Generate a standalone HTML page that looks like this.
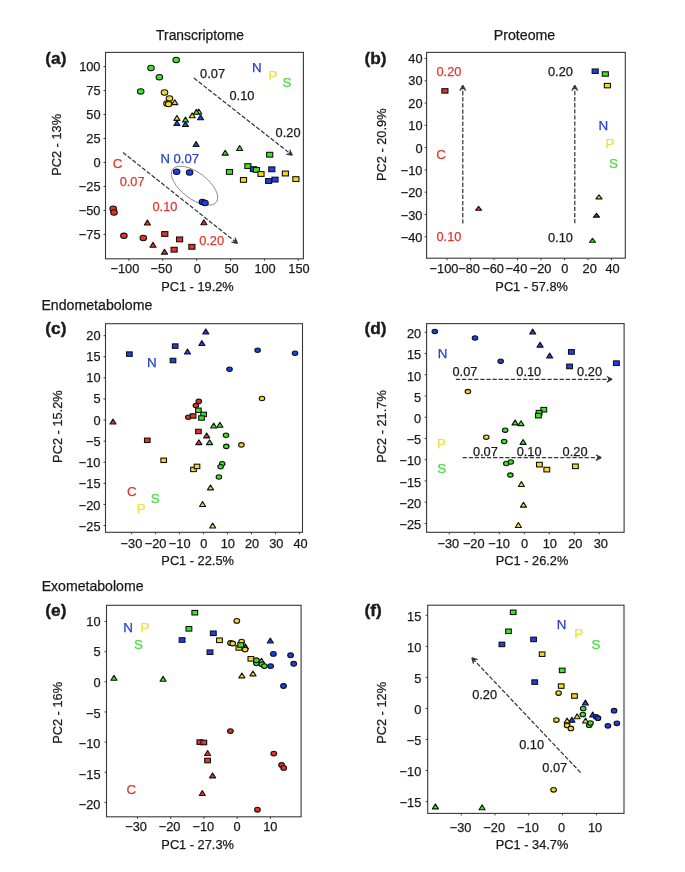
<!DOCTYPE html>
<html><head><meta charset="utf-8"><style>
html,body{margin:0;padding:0;background:#fff;}
svg{display:block;will-change:transform;}
text{font-family:"Liberation Sans",sans-serif;}
</style></head><body>
<svg width="685" height="872" viewBox="0 0 685 872">
<rect width="685" height="872" fill="#fff"/>
<text x="156.10" y="39.60" style="font-size:13.85px;fill:#1a1a1a;stroke:#1a1a1a;stroke-width:0.25px;" >Transcriptome</text>
<text x="493.74" y="39.70" style="font-size:14.2px;fill:#1a1a1a;stroke:#1a1a1a;stroke-width:0.25px;" >Proteome</text>
<text x="41.44" y="310.20" style="font-size:14.15px;fill:#1a1a1a;stroke:#1a1a1a;stroke-width:0.25px;" >Endometabolome</text>
<text x="41.64" y="591.00" style="font-size:14.1px;fill:#1a1a1a;stroke:#1a1a1a;stroke-width:0.25px;" >Exometabolome</text>
<text x="45.34" y="63.70" style="font-size:17.3px;font-weight:bold;fill:#1a1a1a;stroke:#1a1a1a;stroke-width:0.4px;" >(a)</text>
<text x="364.44" y="63.70" style="font-size:17.3px;font-weight:bold;fill:#1a1a1a;stroke:#1a1a1a;stroke-width:0.4px;" >(b)</text>
<text x="45.34" y="334.30" style="font-size:17.3px;font-weight:bold;fill:#1a1a1a;stroke:#1a1a1a;stroke-width:0.4px;" >(c)</text>
<text x="364.44" y="334.30" style="font-size:17.3px;font-weight:bold;fill:#1a1a1a;stroke:#1a1a1a;stroke-width:0.4px;" >(d)</text>
<text x="45.34" y="615.90" style="font-size:17.3px;font-weight:bold;fill:#1a1a1a;stroke:#1a1a1a;stroke-width:0.4px;" >(e)</text>
<text x="364.44" y="615.90" style="font-size:17.3px;font-weight:bold;fill:#1a1a1a;stroke:#1a1a1a;stroke-width:0.4px;" >(f)</text>
<rect x="105.5" y="52.4" width="197.90" height="206.40" fill="none" stroke="#383838" stroke-width="1.1"/>
<line x1="128.90" y1="258.80" x2="128.90" y2="260.80" stroke="#383838" stroke-width="1"/>
<text x="110.52" y="273.00" style="font-size:12.8px;fill:#1a1a1a;stroke:#1a1a1a;stroke-width:0.25px;" >−100</text>
<line x1="162.78" y1="258.80" x2="162.78" y2="260.80" stroke="#383838" stroke-width="1"/>
<text x="150.58" y="273.00" style="font-size:12.8px;fill:#1a1a1a;stroke:#1a1a1a;stroke-width:0.25px;" >−50</text>
<line x1="196.66" y1="258.80" x2="196.66" y2="260.80" stroke="#383838" stroke-width="1"/>
<text x="193.74" y="273.00" style="font-size:12.8px;fill:#1a1a1a;stroke:#1a1a1a;stroke-width:0.25px;" >0</text>
<line x1="230.54" y1="258.80" x2="230.54" y2="260.80" stroke="#383838" stroke-width="1"/>
<text x="224.38" y="273.00" style="font-size:12.8px;fill:#1a1a1a;stroke:#1a1a1a;stroke-width:0.25px;" >50</text>
<line x1="264.42" y1="258.80" x2="264.42" y2="260.80" stroke="#383838" stroke-width="1"/>
<text x="254.39" y="273.00" style="font-size:12.8px;fill:#1a1a1a;stroke:#1a1a1a;stroke-width:0.25px;" >100</text>
<line x1="298.30" y1="258.80" x2="298.30" y2="260.80" stroke="#383838" stroke-width="1"/>
<text x="288.29" y="273.00" style="font-size:12.8px;fill:#1a1a1a;stroke:#1a1a1a;stroke-width:0.25px;" >150</text>
<line x1="103.50" y1="66.60" x2="105.50" y2="66.60" stroke="#383838" stroke-width="1"/>
<text x="79.15" y="70.95" style="font-size:12.8px;fill:#1a1a1a;stroke:#1a1a1a;stroke-width:0.25px;" >100</text>
<line x1="103.50" y1="90.57" x2="105.50" y2="90.57" stroke="#383838" stroke-width="1"/>
<text x="86.30" y="94.87" style="font-size:12.8px;fill:#1a1a1a;stroke:#1a1a1a;stroke-width:0.25px;" >75</text>
<line x1="103.50" y1="114.54" x2="105.50" y2="114.54" stroke="#383838" stroke-width="1"/>
<text x="86.27" y="118.92" style="font-size:12.8px;fill:#1a1a1a;stroke:#1a1a1a;stroke-width:0.25px;" >50</text>
<line x1="103.50" y1="138.51" x2="105.50" y2="138.51" stroke="#383838" stroke-width="1"/>
<text x="86.30" y="142.91" style="font-size:12.8px;fill:#1a1a1a;stroke:#1a1a1a;stroke-width:0.25px;" >25</text>
<line x1="103.50" y1="162.49" x2="105.50" y2="162.49" stroke="#383838" stroke-width="1"/>
<text x="93.38" y="166.90" style="font-size:12.8px;fill:#1a1a1a;stroke:#1a1a1a;stroke-width:0.25px;" >0</text>
<line x1="103.50" y1="186.46" x2="105.50" y2="186.46" stroke="#383838" stroke-width="1"/>
<text x="78.83" y="190.88" style="font-size:12.8px;fill:#1a1a1a;stroke:#1a1a1a;stroke-width:0.25px;" >−25</text>
<line x1="103.50" y1="210.43" x2="105.50" y2="210.43" stroke="#383838" stroke-width="1"/>
<text x="78.79" y="214.87" style="font-size:12.8px;fill:#1a1a1a;stroke:#1a1a1a;stroke-width:0.25px;" >−50</text>
<line x1="103.50" y1="234.40" x2="105.50" y2="234.40" stroke="#383838" stroke-width="1"/>
<text x="78.83" y="238.79" style="font-size:12.8px;fill:#1a1a1a;stroke:#1a1a1a;stroke-width:0.25px;" >−75</text>
<text x="161.15" y="291.40" style="font-size:12.8px;fill:#1a1a1a;stroke:#1a1a1a;stroke-width:0.25px;" >PC1 - 19.2%</text>
<text transform="translate(61.30,144.60) rotate(-90)" x="-31.24" y="0" style="font-size:12.8px;fill:#1a1a1a;stroke:#1a1a1a;stroke-width:0.25px">PC2 - 13%</text>
<rect x="426.6" y="52.4" width="198.70" height="205.80" fill="none" stroke="#383838" stroke-width="1.1"/>
<line x1="447.00" y1="258.20" x2="447.00" y2="260.20" stroke="#383838" stroke-width="1"/>
<text x="429.57" y="273.00" style="font-size:12.8px;fill:#1a1a1a;stroke:#1a1a1a;stroke-width:0.25px;" >−100</text>
<line x1="470.50" y1="258.20" x2="470.50" y2="260.20" stroke="#383838" stroke-width="1"/>
<text x="458.28" y="273.00" style="font-size:12.8px;fill:#1a1a1a;stroke:#1a1a1a;stroke-width:0.25px;" >−80</text>
<line x1="494.00" y1="258.20" x2="494.00" y2="260.20" stroke="#383838" stroke-width="1"/>
<text x="482.28" y="273.00" style="font-size:12.8px;fill:#1a1a1a;stroke:#1a1a1a;stroke-width:0.25px;" >−60</text>
<line x1="517.50" y1="258.20" x2="517.50" y2="260.20" stroke="#383838" stroke-width="1"/>
<text x="505.58" y="273.00" style="font-size:12.8px;fill:#1a1a1a;stroke:#1a1a1a;stroke-width:0.25px;" >−40</text>
<line x1="541.00" y1="258.20" x2="541.00" y2="260.20" stroke="#383838" stroke-width="1"/>
<text x="529.68" y="273.00" style="font-size:12.8px;fill:#1a1a1a;stroke:#1a1a1a;stroke-width:0.25px;" >−20</text>
<line x1="564.50" y1="258.20" x2="564.50" y2="260.20" stroke="#383838" stroke-width="1"/>
<text x="561.14" y="273.00" style="font-size:12.8px;fill:#1a1a1a;stroke:#1a1a1a;stroke-width:0.25px;" >0</text>
<line x1="588.00" y1="258.20" x2="588.00" y2="260.20" stroke="#383838" stroke-width="1"/>
<text x="582.61" y="273.00" style="font-size:12.8px;fill:#1a1a1a;stroke:#1a1a1a;stroke-width:0.25px;" >20</text>
<line x1="611.50" y1="258.20" x2="611.50" y2="260.20" stroke="#383838" stroke-width="1"/>
<text x="605.44" y="273.00" style="font-size:12.8px;fill:#1a1a1a;stroke:#1a1a1a;stroke-width:0.25px;" >40</text>
<line x1="424.60" y1="58.45" x2="426.60" y2="58.45" stroke="#383838" stroke-width="1"/>
<text x="408.27" y="62.95" style="font-size:12.8px;fill:#1a1a1a;stroke:#1a1a1a;stroke-width:0.25px;" >40</text>
<line x1="424.60" y1="80.74" x2="426.60" y2="80.74" stroke="#383838" stroke-width="1"/>
<text x="408.27" y="85.35" style="font-size:12.8px;fill:#1a1a1a;stroke:#1a1a1a;stroke-width:0.25px;" >30</text>
<line x1="424.60" y1="103.04" x2="426.60" y2="103.04" stroke="#383838" stroke-width="1"/>
<text x="408.27" y="107.74" style="font-size:12.8px;fill:#1a1a1a;stroke:#1a1a1a;stroke-width:0.25px;" >20</text>
<line x1="424.60" y1="125.33" x2="426.60" y2="125.33" stroke="#383838" stroke-width="1"/>
<text x="408.27" y="130.13" style="font-size:12.8px;fill:#1a1a1a;stroke:#1a1a1a;stroke-width:0.25px;" >10</text>
<line x1="424.60" y1="147.62" x2="426.60" y2="147.62" stroke="#383838" stroke-width="1"/>
<text x="415.38" y="152.53" style="font-size:12.8px;fill:#1a1a1a;stroke:#1a1a1a;stroke-width:0.25px;" >0</text>
<line x1="424.60" y1="169.92" x2="426.60" y2="169.92" stroke="#383838" stroke-width="1"/>
<text x="400.79" y="174.92" style="font-size:12.8px;fill:#1a1a1a;stroke:#1a1a1a;stroke-width:0.25px;" >−10</text>
<line x1="424.60" y1="192.21" x2="426.60" y2="192.21" stroke="#383838" stroke-width="1"/>
<text x="400.79" y="197.32" style="font-size:12.8px;fill:#1a1a1a;stroke:#1a1a1a;stroke-width:0.25px;" >−20</text>
<line x1="424.60" y1="214.51" x2="426.60" y2="214.51" stroke="#383838" stroke-width="1"/>
<text x="400.79" y="219.71" style="font-size:12.8px;fill:#1a1a1a;stroke:#1a1a1a;stroke-width:0.25px;" >−30</text>
<line x1="424.60" y1="236.80" x2="426.60" y2="236.80" stroke="#383838" stroke-width="1"/>
<text x="400.79" y="242.10" style="font-size:12.8px;fill:#1a1a1a;stroke:#1a1a1a;stroke-width:0.25px;" >−40</text>
<text x="495.35" y="291.40" style="font-size:12.8px;fill:#1a1a1a;stroke:#1a1a1a;stroke-width:0.25px;" >PC1 - 57.8%</text>
<text transform="translate(386.10,144.45) rotate(-90)" x="-36.58" y="0" style="font-size:12.8px;fill:#1a1a1a;stroke:#1a1a1a;stroke-width:0.25px">PC2 - 20.9%</text>
<rect x="105.5" y="323.7" width="197.00" height="208.60" fill="none" stroke="#383838" stroke-width="1.1"/>
<line x1="131.70" y1="532.30" x2="131.70" y2="534.30" stroke="#383838" stroke-width="1"/>
<text x="120.58" y="547.60" style="font-size:12.8px;fill:#1a1a1a;stroke:#1a1a1a;stroke-width:0.25px;" >−30</text>
<line x1="155.66" y1="532.30" x2="155.66" y2="534.30" stroke="#383838" stroke-width="1"/>
<text x="144.71" y="547.60" style="font-size:12.8px;fill:#1a1a1a;stroke:#1a1a1a;stroke-width:0.25px;" >−20</text>
<line x1="179.61" y1="532.30" x2="179.61" y2="534.30" stroke="#383838" stroke-width="1"/>
<text x="168.84" y="547.60" style="font-size:12.8px;fill:#1a1a1a;stroke:#1a1a1a;stroke-width:0.25px;" >−10</text>
<line x1="203.57" y1="532.30" x2="203.57" y2="534.30" stroke="#383838" stroke-width="1"/>
<text x="200.33" y="547.60" style="font-size:12.8px;fill:#1a1a1a;stroke:#1a1a1a;stroke-width:0.25px;" >0</text>
<line x1="227.53" y1="532.30" x2="227.53" y2="534.30" stroke="#383838" stroke-width="1"/>
<text x="220.66" y="547.60" style="font-size:12.8px;fill:#1a1a1a;stroke:#1a1a1a;stroke-width:0.25px;" >10</text>
<line x1="251.49" y1="532.30" x2="251.49" y2="534.30" stroke="#383838" stroke-width="1"/>
<text x="244.96" y="547.60" style="font-size:12.8px;fill:#1a1a1a;stroke:#1a1a1a;stroke-width:0.25px;" >20</text>
<line x1="275.44" y1="532.30" x2="275.44" y2="534.30" stroke="#383838" stroke-width="1"/>
<text x="269.16" y="547.60" style="font-size:12.8px;fill:#1a1a1a;stroke:#1a1a1a;stroke-width:0.25px;" >30</text>
<line x1="299.40" y1="532.30" x2="299.40" y2="534.30" stroke="#383838" stroke-width="1"/>
<text x="293.39" y="547.60" style="font-size:12.8px;fill:#1a1a1a;stroke:#1a1a1a;stroke-width:0.25px;" >40</text>
<line x1="103.50" y1="335.70" x2="105.50" y2="335.70" stroke="#383838" stroke-width="1"/>
<text x="86.27" y="339.80" style="font-size:12.8px;fill:#1a1a1a;stroke:#1a1a1a;stroke-width:0.25px;" >20</text>
<line x1="103.50" y1="356.79" x2="105.50" y2="356.79" stroke="#383838" stroke-width="1"/>
<text x="86.30" y="360.97" style="font-size:12.8px;fill:#1a1a1a;stroke:#1a1a1a;stroke-width:0.25px;" >15</text>
<line x1="103.50" y1="377.88" x2="105.50" y2="377.88" stroke="#383838" stroke-width="1"/>
<text x="86.27" y="382.27" style="font-size:12.8px;fill:#1a1a1a;stroke:#1a1a1a;stroke-width:0.25px;" >10</text>
<line x1="103.50" y1="398.97" x2="105.50" y2="398.97" stroke="#383838" stroke-width="1"/>
<text x="93.42" y="403.44" style="font-size:12.8px;fill:#1a1a1a;stroke:#1a1a1a;stroke-width:0.25px;" >5</text>
<line x1="103.50" y1="420.06" x2="105.50" y2="420.06" stroke="#383838" stroke-width="1"/>
<text x="93.38" y="424.74" style="font-size:12.8px;fill:#1a1a1a;stroke:#1a1a1a;stroke-width:0.25px;" >0</text>
<line x1="103.50" y1="441.14" x2="105.50" y2="441.14" stroke="#383838" stroke-width="1"/>
<text x="85.95" y="445.91" style="font-size:12.8px;fill:#1a1a1a;stroke:#1a1a1a;stroke-width:0.25px;" >−5</text>
<line x1="103.50" y1="462.23" x2="105.50" y2="462.23" stroke="#383838" stroke-width="1"/>
<text x="78.79" y="467.20" style="font-size:12.8px;fill:#1a1a1a;stroke:#1a1a1a;stroke-width:0.25px;" >−10</text>
<line x1="103.50" y1="483.32" x2="105.50" y2="483.32" stroke="#383838" stroke-width="1"/>
<text x="78.83" y="488.37" style="font-size:12.8px;fill:#1a1a1a;stroke:#1a1a1a;stroke-width:0.25px;" >−15</text>
<line x1="103.50" y1="504.41" x2="105.50" y2="504.41" stroke="#383838" stroke-width="1"/>
<text x="78.79" y="509.67" style="font-size:12.8px;fill:#1a1a1a;stroke:#1a1a1a;stroke-width:0.25px;" >−20</text>
<line x1="103.50" y1="525.50" x2="105.50" y2="525.50" stroke="#383838" stroke-width="1"/>
<text x="78.83" y="530.90" style="font-size:12.8px;fill:#1a1a1a;stroke:#1a1a1a;stroke-width:0.25px;" >−25</text>
<text x="161.35" y="565.00" style="font-size:12.8px;fill:#1a1a1a;stroke:#1a1a1a;stroke-width:0.25px;" >PC1 - 22.5%</text>
<text transform="translate(61.70,426.30) rotate(-90)" x="-36.58" y="0" style="font-size:12.8px;fill:#1a1a1a;stroke:#1a1a1a;stroke-width:0.25px">PC2 - 15.2%</text>
<rect x="426.6" y="323.6" width="197.50" height="208.70" fill="none" stroke="#383838" stroke-width="1.1"/>
<line x1="449.30" y1="532.30" x2="449.30" y2="534.30" stroke="#383838" stroke-width="1"/>
<text x="437.48" y="547.60" style="font-size:12.8px;fill:#1a1a1a;stroke:#1a1a1a;stroke-width:0.25px;" >−30</text>
<line x1="474.30" y1="532.30" x2="474.30" y2="534.30" stroke="#383838" stroke-width="1"/>
<text x="462.88" y="547.60" style="font-size:12.8px;fill:#1a1a1a;stroke:#1a1a1a;stroke-width:0.25px;" >−20</text>
<line x1="499.30" y1="532.30" x2="499.30" y2="534.30" stroke="#383838" stroke-width="1"/>
<text x="488.28" y="547.60" style="font-size:12.8px;fill:#1a1a1a;stroke:#1a1a1a;stroke-width:0.25px;" >−10</text>
<line x1="524.30" y1="532.30" x2="524.30" y2="534.30" stroke="#383838" stroke-width="1"/>
<text x="521.04" y="547.60" style="font-size:12.8px;fill:#1a1a1a;stroke:#1a1a1a;stroke-width:0.25px;" >0</text>
<line x1="549.30" y1="532.30" x2="549.30" y2="534.30" stroke="#383838" stroke-width="1"/>
<text x="542.65" y="547.60" style="font-size:12.8px;fill:#1a1a1a;stroke:#1a1a1a;stroke-width:0.25px;" >10</text>
<line x1="574.30" y1="532.30" x2="574.30" y2="534.30" stroke="#383838" stroke-width="1"/>
<text x="568.21" y="547.60" style="font-size:12.8px;fill:#1a1a1a;stroke:#1a1a1a;stroke-width:0.25px;" >20</text>
<line x1="599.30" y1="532.30" x2="599.30" y2="534.30" stroke="#383838" stroke-width="1"/>
<text x="593.69" y="547.60" style="font-size:12.8px;fill:#1a1a1a;stroke:#1a1a1a;stroke-width:0.25px;" >30</text>
<line x1="424.60" y1="332.30" x2="426.60" y2="332.30" stroke="#383838" stroke-width="1"/>
<text x="406.97" y="338.25" style="font-size:12.8px;fill:#1a1a1a;stroke:#1a1a1a;stroke-width:0.25px;" >20</text>
<line x1="424.60" y1="353.53" x2="426.60" y2="353.53" stroke="#383838" stroke-width="1"/>
<text x="407.00" y="359.39" style="font-size:12.8px;fill:#1a1a1a;stroke:#1a1a1a;stroke-width:0.25px;" >15</text>
<line x1="424.60" y1="374.77" x2="426.60" y2="374.77" stroke="#383838" stroke-width="1"/>
<text x="406.97" y="380.66" style="font-size:12.8px;fill:#1a1a1a;stroke:#1a1a1a;stroke-width:0.25px;" >10</text>
<line x1="424.60" y1="396.00" x2="426.60" y2="396.00" stroke="#383838" stroke-width="1"/>
<text x="414.12" y="401.81" style="font-size:12.8px;fill:#1a1a1a;stroke:#1a1a1a;stroke-width:0.25px;" >5</text>
<line x1="424.60" y1="417.23" x2="426.60" y2="417.23" stroke="#383838" stroke-width="1"/>
<text x="414.08" y="423.08" style="font-size:12.8px;fill:#1a1a1a;stroke:#1a1a1a;stroke-width:0.25px;" >0</text>
<line x1="424.60" y1="438.47" x2="426.60" y2="438.47" stroke="#383838" stroke-width="1"/>
<text x="406.65" y="444.22" style="font-size:12.8px;fill:#1a1a1a;stroke:#1a1a1a;stroke-width:0.25px;" >−5</text>
<line x1="424.60" y1="459.70" x2="426.60" y2="459.70" stroke="#383838" stroke-width="1"/>
<text x="399.49" y="465.49" style="font-size:12.8px;fill:#1a1a1a;stroke:#1a1a1a;stroke-width:0.25px;" >−10</text>
<line x1="424.60" y1="480.93" x2="426.60" y2="480.93" stroke="#383838" stroke-width="1"/>
<text x="399.53" y="486.63" style="font-size:12.8px;fill:#1a1a1a;stroke:#1a1a1a;stroke-width:0.25px;" >−15</text>
<line x1="424.60" y1="502.17" x2="426.60" y2="502.17" stroke="#383838" stroke-width="1"/>
<text x="399.49" y="507.90" style="font-size:12.8px;fill:#1a1a1a;stroke:#1a1a1a;stroke-width:0.25px;" >−20</text>
<line x1="424.60" y1="523.40" x2="426.60" y2="523.40" stroke="#383838" stroke-width="1"/>
<text x="399.53" y="529.10" style="font-size:12.8px;fill:#1a1a1a;stroke:#1a1a1a;stroke-width:0.25px;" >−25</text>
<text x="495.75" y="565.00" style="font-size:12.8px;fill:#1a1a1a;stroke:#1a1a1a;stroke-width:0.25px;" >PC1 - 26.2%</text>
<text transform="translate(386.10,426.20) rotate(-90)" x="-36.58" y="0" style="font-size:12.8px;fill:#1a1a1a;stroke:#1a1a1a;stroke-width:0.25px">PC2 - 21.7%</text>
<rect x="106.5" y="605.3" width="194.60" height="211.50" fill="none" stroke="#383838" stroke-width="1.1"/>
<line x1="137.50" y1="816.80" x2="137.50" y2="818.80" stroke="#383838" stroke-width="1"/>
<text x="125.18" y="831.40" style="font-size:12.8px;fill:#1a1a1a;stroke:#1a1a1a;stroke-width:0.25px;" >−30</text>
<line x1="170.72" y1="816.80" x2="170.72" y2="818.80" stroke="#383838" stroke-width="1"/>
<text x="158.79" y="831.40" style="font-size:12.8px;fill:#1a1a1a;stroke:#1a1a1a;stroke-width:0.25px;" >−20</text>
<line x1="203.95" y1="816.80" x2="203.95" y2="818.80" stroke="#383838" stroke-width="1"/>
<text x="192.41" y="831.40" style="font-size:12.8px;fill:#1a1a1a;stroke:#1a1a1a;stroke-width:0.25px;" >−10</text>
<line x1="237.17" y1="816.80" x2="237.17" y2="818.80" stroke="#383838" stroke-width="1"/>
<text x="233.38" y="831.40" style="font-size:12.8px;fill:#1a1a1a;stroke:#1a1a1a;stroke-width:0.25px;" >0</text>
<line x1="270.40" y1="816.80" x2="270.40" y2="818.80" stroke="#383838" stroke-width="1"/>
<text x="263.20" y="831.40" style="font-size:12.8px;fill:#1a1a1a;stroke:#1a1a1a;stroke-width:0.25px;" >10</text>
<line x1="104.50" y1="621.50" x2="106.50" y2="621.50" stroke="#383838" stroke-width="1"/>
<text x="86.27" y="625.90" style="font-size:12.8px;fill:#1a1a1a;stroke:#1a1a1a;stroke-width:0.25px;" >10</text>
<line x1="104.50" y1="651.65" x2="106.50" y2="651.65" stroke="#383838" stroke-width="1"/>
<text x="93.42" y="656.42" style="font-size:12.8px;fill:#1a1a1a;stroke:#1a1a1a;stroke-width:0.25px;" >5</text>
<line x1="104.50" y1="681.80" x2="106.50" y2="681.80" stroke="#383838" stroke-width="1"/>
<text x="93.38" y="687.07" style="font-size:12.8px;fill:#1a1a1a;stroke:#1a1a1a;stroke-width:0.25px;" >0</text>
<line x1="104.50" y1="711.95" x2="106.50" y2="711.95" stroke="#383838" stroke-width="1"/>
<text x="85.95" y="717.59" style="font-size:12.8px;fill:#1a1a1a;stroke:#1a1a1a;stroke-width:0.25px;" >−5</text>
<line x1="104.50" y1="742.10" x2="106.50" y2="742.10" stroke="#383838" stroke-width="1"/>
<text x="78.79" y="748.24" style="font-size:12.8px;fill:#1a1a1a;stroke:#1a1a1a;stroke-width:0.25px;" >−10</text>
<line x1="104.50" y1="772.25" x2="106.50" y2="772.25" stroke="#383838" stroke-width="1"/>
<text x="78.83" y="778.76" style="font-size:12.8px;fill:#1a1a1a;stroke:#1a1a1a;stroke-width:0.25px;" >−15</text>
<line x1="104.50" y1="802.40" x2="106.50" y2="802.40" stroke="#383838" stroke-width="1"/>
<text x="78.79" y="809.40" style="font-size:12.8px;fill:#1a1a1a;stroke:#1a1a1a;stroke-width:0.25px;" >−20</text>
<text x="161.35" y="848.60" style="font-size:12.8px;fill:#1a1a1a;stroke:#1a1a1a;stroke-width:0.25px;" >PC1 - 27.3%</text>
<text transform="translate(61.50,712.60) rotate(-90)" x="-31.24" y="0" style="font-size:12.8px;fill:#1a1a1a;stroke:#1a1a1a;stroke-width:0.25px">PC2 - 16%</text>
<rect x="427.7" y="605.2" width="196.30" height="208.20" fill="none" stroke="#383838" stroke-width="1.1"/>
<line x1="461.20" y1="813.40" x2="461.20" y2="815.40" stroke="#383838" stroke-width="1"/>
<text x="449.68" y="831.50" style="font-size:12.8px;fill:#1a1a1a;stroke:#1a1a1a;stroke-width:0.25px;" >−30</text>
<line x1="495.00" y1="813.40" x2="495.00" y2="815.40" stroke="#383838" stroke-width="1"/>
<text x="483.37" y="831.50" style="font-size:12.8px;fill:#1a1a1a;stroke:#1a1a1a;stroke-width:0.25px;" >−20</text>
<line x1="528.80" y1="813.40" x2="528.80" y2="815.40" stroke="#383838" stroke-width="1"/>
<text x="517.06" y="831.50" style="font-size:12.8px;fill:#1a1a1a;stroke:#1a1a1a;stroke-width:0.25px;" >−10</text>
<line x1="562.60" y1="813.40" x2="562.60" y2="815.40" stroke="#383838" stroke-width="1"/>
<text x="558.10" y="831.50" style="font-size:12.8px;fill:#1a1a1a;stroke:#1a1a1a;stroke-width:0.25px;" >0</text>
<line x1="596.40" y1="813.40" x2="596.40" y2="815.40" stroke="#383838" stroke-width="1"/>
<text x="588.00" y="831.50" style="font-size:12.8px;fill:#1a1a1a;stroke:#1a1a1a;stroke-width:0.25px;" >10</text>
<line x1="425.70" y1="615.30" x2="427.70" y2="615.30" stroke="#383838" stroke-width="1"/>
<text x="407.10" y="620.64" style="font-size:12.8px;fill:#1a1a1a;stroke:#1a1a1a;stroke-width:0.25px;" >15</text>
<line x1="425.70" y1="646.35" x2="427.70" y2="646.35" stroke="#383838" stroke-width="1"/>
<text x="407.07" y="651.71" style="font-size:12.8px;fill:#1a1a1a;stroke:#1a1a1a;stroke-width:0.25px;" >10</text>
<line x1="425.70" y1="677.40" x2="427.70" y2="677.40" stroke="#383838" stroke-width="1"/>
<text x="414.22" y="682.66" style="font-size:12.8px;fill:#1a1a1a;stroke:#1a1a1a;stroke-width:0.25px;" >5</text>
<line x1="425.70" y1="708.45" x2="427.70" y2="708.45" stroke="#383838" stroke-width="1"/>
<text x="414.18" y="713.73" style="font-size:12.8px;fill:#1a1a1a;stroke:#1a1a1a;stroke-width:0.25px;" >0</text>
<line x1="425.70" y1="739.50" x2="427.70" y2="739.50" stroke="#383838" stroke-width="1"/>
<text x="406.75" y="744.67" style="font-size:12.8px;fill:#1a1a1a;stroke:#1a1a1a;stroke-width:0.25px;" >−5</text>
<line x1="425.70" y1="770.55" x2="427.70" y2="770.55" stroke="#383838" stroke-width="1"/>
<text x="399.59" y="775.74" style="font-size:12.8px;fill:#1a1a1a;stroke:#1a1a1a;stroke-width:0.25px;" >−10</text>
<line x1="425.70" y1="801.60" x2="427.70" y2="801.60" stroke="#383838" stroke-width="1"/>
<text x="399.63" y="806.69" style="font-size:12.8px;fill:#1a1a1a;stroke:#1a1a1a;stroke-width:0.25px;" >−15</text>
<text x="495.75" y="848.60" style="font-size:12.8px;fill:#1a1a1a;stroke:#1a1a1a;stroke-width:0.25px;" >PC1 - 34.7%</text>
<text transform="translate(385.70,712.60) rotate(-90)" x="-31.24" y="0" style="font-size:12.8px;fill:#1a1a1a;stroke:#1a1a1a;stroke-width:0.25px">PC2 - 12%</text>
<line x1="193.90" y1="78.10" x2="291.81" y2="154.89" stroke="#383838" stroke-width="1.25" stroke-dasharray="4.3 1.8"/>
<line x1="292.20" y1="155.20" x2="289.77" y2="149.71" stroke="#383838" stroke-width="1.3" stroke-linecap="butt"/>
<line x1="292.20" y1="155.20" x2="286.29" y2="154.15" stroke="#383838" stroke-width="1.3" stroke-linecap="butt"/>
<polygon points="292.20,155.20 290.38,151.09 287.77,154.41" fill="#383838"/>
<line x1="123.00" y1="152.50" x2="237.01" y2="242.99" stroke="#383838" stroke-width="1.25" stroke-dasharray="4.3 1.8"/>
<line x1="237.40" y1="243.30" x2="235.00" y2="237.80" stroke="#383838" stroke-width="1.3" stroke-linecap="butt"/>
<line x1="237.40" y1="243.30" x2="231.50" y2="242.21" stroke="#383838" stroke-width="1.3" stroke-linecap="butt"/>
<polygon points="237.40,243.30 235.60,239.18 232.97,242.48" fill="#383838"/>
<line x1="462.80" y1="223.50" x2="462.80" y2="85.80" stroke="#383838" stroke-width="1.25" stroke-dasharray="4.3 1.8"/>
<line x1="462.80" y1="85.30" x2="459.98" y2="90.60" stroke="#383838" stroke-width="1.3" stroke-linecap="butt"/>
<line x1="462.80" y1="85.30" x2="465.62" y2="90.60" stroke="#383838" stroke-width="1.3" stroke-linecap="butt"/>
<polygon points="462.80,85.30 460.69,89.27 464.91,89.27" fill="#383838"/>
<line x1="574.80" y1="223.30" x2="574.80" y2="85.80" stroke="#383838" stroke-width="1.25" stroke-dasharray="4.3 1.8"/>
<line x1="574.80" y1="85.30" x2="571.98" y2="90.60" stroke="#383838" stroke-width="1.3" stroke-linecap="butt"/>
<line x1="574.80" y1="85.30" x2="577.62" y2="90.60" stroke="#383838" stroke-width="1.3" stroke-linecap="butt"/>
<polygon points="574.80,85.30 572.69,89.27 576.91,89.27" fill="#383838"/>
<line x1="455.90" y1="379.30" x2="611.60" y2="379.30" stroke="#383838" stroke-width="1.25" stroke-dasharray="4.3 1.8"/>
<line x1="612.10" y1="379.30" x2="606.80" y2="376.48" stroke="#383838" stroke-width="1.3" stroke-linecap="butt"/>
<line x1="612.10" y1="379.30" x2="606.80" y2="382.12" stroke="#383838" stroke-width="1.3" stroke-linecap="butt"/>
<polygon points="612.10,379.30 608.13,377.19 608.13,381.41" fill="#383838"/>
<line x1="462.60" y1="457.60" x2="600.70" y2="457.60" stroke="#383838" stroke-width="1.25" stroke-dasharray="4.3 1.8"/>
<line x1="601.20" y1="457.60" x2="595.90" y2="454.78" stroke="#383838" stroke-width="1.3" stroke-linecap="butt"/>
<line x1="601.20" y1="457.60" x2="595.90" y2="460.42" stroke="#383838" stroke-width="1.3" stroke-linecap="butt"/>
<polygon points="601.20,457.60 597.23,455.49 597.23,459.71" fill="#383838"/>
<line x1="580.60" y1="772.60" x2="472.24" y2="658.16" stroke="#383838" stroke-width="1.25" stroke-dasharray="4.3 1.8"/>
<line x1="471.90" y1="657.80" x2="473.50" y2="663.58" stroke="#383838" stroke-width="1.3" stroke-linecap="butt"/>
<line x1="471.90" y1="657.80" x2="477.59" y2="659.71" stroke="#383838" stroke-width="1.3" stroke-linecap="butt"/>
<polygon points="471.90,657.80 473.10,662.14 476.17,659.23" fill="#383838"/>
<ellipse cx="194.55" cy="185.65" rx="27.3" ry="13.1" transform="rotate(37 194.55 185.65)" fill="none" stroke="#8a8a8a" stroke-width="0.9"/>
<ellipse cx="176.20" cy="59.90" rx="3.25" ry="2.70" fill="#38e81e" stroke="#111111" stroke-width="1.1"/>
<ellipse cx="151.00" cy="67.90" rx="3.25" ry="2.70" fill="#38e81e" stroke="#111111" stroke-width="1.1"/>
<ellipse cx="159.40" cy="77.20" rx="3.25" ry="2.70" fill="#38e81e" stroke="#111111" stroke-width="1.1"/>
<ellipse cx="140.70" cy="91.40" rx="3.25" ry="2.70" fill="#38e81e" stroke="#111111" stroke-width="1.1"/>
<ellipse cx="164.50" cy="92.50" rx="3.25" ry="2.70" fill="#f6d91f" stroke="#111111" stroke-width="1.1"/>
<ellipse cx="169.50" cy="98.50" rx="3.25" ry="2.70" fill="#f6d91f" stroke="#111111" stroke-width="1.1"/>
<ellipse cx="167.00" cy="103.50" rx="3.25" ry="2.70" fill="#f6d91f" stroke="#111111" stroke-width="1.1"/>
<ellipse cx="168.60" cy="104.10" rx="3.25" ry="2.70" fill="#f6d91f" stroke="#111111" stroke-width="1.1"/>
<polygon points="174.80,99.75 177.85,104.65 171.75,104.65" fill="#f6d91f" stroke="#111111" stroke-width="1.1" stroke-linejoin="round"/>
<polygon points="176.90,115.45 179.95,120.35 173.85,120.35" fill="#f6d91f" stroke="#111111" stroke-width="1.1" stroke-linejoin="round"/>
<polygon points="176.90,120.65 179.95,125.55 173.85,125.55" fill="#1e40ec" stroke="#111111" stroke-width="1.1" stroke-linejoin="round"/>
<polygon points="185.50,117.05 188.55,121.95 182.45,121.95" fill="#38e81e" stroke="#111111" stroke-width="1.1" stroke-linejoin="round"/>
<polygon points="185.50,121.55 188.55,126.45 182.45,126.45" fill="#1e40ec" stroke="#111111" stroke-width="1.1" stroke-linejoin="round"/>
<polygon points="192.20,112.85 195.25,117.75 189.15,117.75" fill="#f6d91f" stroke="#111111" stroke-width="1.1" stroke-linejoin="round"/>
<polygon points="198.80,109.15 201.85,114.05 195.75,114.05" fill="#f6d91f" stroke="#111111" stroke-width="1.1" stroke-linejoin="round"/>
<polygon points="196.40,109.35 199.45,114.25 193.35,114.25" fill="#38e81e" stroke="#111111" stroke-width="1.1" stroke-linejoin="round"/>
<polygon points="200.60,114.85 203.65,119.75 197.55,119.75" fill="#1e40ec" stroke="#111111" stroke-width="1.1" stroke-linejoin="round"/>
<polygon points="196.10,141.55 199.15,146.45 193.05,146.45" fill="#1e40ec" stroke="#111111" stroke-width="1.1" stroke-linejoin="round"/>
<polygon points="225.20,150.25 228.25,155.15 222.15,155.15" fill="#38e81e" stroke="#111111" stroke-width="1.1" stroke-linejoin="round"/>
<polygon points="239.60,145.55 242.65,150.45 236.55,150.45" fill="#38e81e" stroke="#111111" stroke-width="1.1" stroke-linejoin="round"/>
<rect x="266.65" y="152.30" width="6.10" height="4.80" fill="#38e81e" stroke="#111111" stroke-width="1.1"/>
<rect x="226.45" y="169.50" width="6.10" height="4.80" fill="#38e81e" stroke="#111111" stroke-width="1.1"/>
<rect x="244.85" y="163.70" width="6.10" height="4.80" fill="#38e81e" stroke="#111111" stroke-width="1.1"/>
<rect x="250.35" y="166.70" width="6.10" height="4.80" fill="#1e40ec" stroke="#111111" stroke-width="1.1"/>
<rect x="253.35" y="167.50" width="6.10" height="4.80" fill="#38e81e" stroke="#111111" stroke-width="1.1"/>
<rect x="257.95" y="171.60" width="6.10" height="4.80" fill="#f6d91f" stroke="#111111" stroke-width="1.1"/>
<rect x="268.75" y="166.90" width="6.10" height="4.80" fill="#1e40ec" stroke="#111111" stroke-width="1.1"/>
<rect x="240.45" y="177.50" width="6.10" height="4.80" fill="#f6d91f" stroke="#111111" stroke-width="1.1"/>
<rect x="265.55" y="178.60" width="6.10" height="4.80" fill="#1e40ec" stroke="#111111" stroke-width="1.1"/>
<rect x="271.95" y="177.20" width="6.10" height="4.80" fill="#1e40ec" stroke="#111111" stroke-width="1.1"/>
<rect x="282.35" y="171.10" width="6.10" height="4.80" fill="#f6d91f" stroke="#111111" stroke-width="1.1"/>
<rect x="292.85" y="176.70" width="6.10" height="4.80" fill="#f6d91f" stroke="#111111" stroke-width="1.1"/>
<ellipse cx="176.60" cy="171.70" rx="3.25" ry="2.70" fill="#1e40ec" stroke="#111111" stroke-width="1.1"/>
<ellipse cx="189.60" cy="172.60" rx="3.25" ry="2.70" fill="#1e40ec" stroke="#111111" stroke-width="1.1"/>
<ellipse cx="202.40" cy="202.00" rx="3.25" ry="2.70" fill="#1e40ec" stroke="#111111" stroke-width="1.1"/>
<ellipse cx="205.00" cy="203.00" rx="3.25" ry="2.70" fill="#1e40ec" stroke="#111111" stroke-width="1.1"/>
<ellipse cx="113.20" cy="208.70" rx="3.25" ry="2.70" fill="#e8302a" stroke="#111111" stroke-width="1.1"/>
<ellipse cx="114.00" cy="212.50" rx="3.25" ry="2.70" fill="#e8302a" stroke="#111111" stroke-width="1.1"/>
<ellipse cx="123.90" cy="235.80" rx="3.25" ry="2.70" fill="#e8302a" stroke="#111111" stroke-width="1.1"/>
<ellipse cx="143.30" cy="238.00" rx="3.25" ry="2.70" fill="#e8302a" stroke="#111111" stroke-width="1.1"/>
<polygon points="147.40,220.05 150.45,224.95 144.35,224.95" fill="#e8302a" stroke="#111111" stroke-width="1.1" stroke-linejoin="round"/>
<polygon points="153.00,242.35 156.05,247.25 149.95,247.25" fill="#e8302a" stroke="#111111" stroke-width="1.1" stroke-linejoin="round"/>
<polygon points="164.50,249.25 167.55,254.15 161.45,254.15" fill="#e8302a" stroke="#111111" stroke-width="1.1" stroke-linejoin="round"/>
<polygon points="203.90,219.85 206.95,224.75 200.85,224.75" fill="#e8302a" stroke="#111111" stroke-width="1.1" stroke-linejoin="round"/>
<rect x="161.75" y="231.60" width="6.10" height="4.80" fill="#e8302a" stroke="#111111" stroke-width="1.1"/>
<rect x="176.55" y="237.00" width="6.10" height="4.80" fill="#e8302a" stroke="#111111" stroke-width="1.1"/>
<rect x="171.05" y="247.30" width="6.10" height="4.80" fill="#e8302a" stroke="#111111" stroke-width="1.1"/>
<rect x="188.85" y="244.40" width="6.10" height="4.80" fill="#e8302a" stroke="#111111" stroke-width="1.1"/>
<rect x="441.85" y="88.69" width="6.10" height="4.42" fill="#e8302a" stroke="#111111" stroke-width="1.1"/>
<polygon points="478.60,206.34 481.65,210.26 475.55,210.26" fill="#e8302a" stroke="#111111" stroke-width="1.1" stroke-linejoin="round"/>
<rect x="592.15" y="68.99" width="6.10" height="4.42" fill="#1e40ec" stroke="#111111" stroke-width="1.1"/>
<rect x="602.25" y="71.79" width="6.10" height="4.42" fill="#38e81e" stroke="#111111" stroke-width="1.1"/>
<rect x="604.35" y="83.39" width="6.10" height="4.42" fill="#f6d91f" stroke="#111111" stroke-width="1.1"/>
<polygon points="599.00,194.94 602.05,198.86 595.95,198.86" fill="#f6d91f" stroke="#111111" stroke-width="1.1" stroke-linejoin="round"/>
<polygon points="596.50,213.24 599.55,217.16 593.45,217.16" fill="#1e40ec" stroke="#111111" stroke-width="1.1" stroke-linejoin="round"/>
<polygon points="592.50,238.34 595.55,242.26 589.45,242.26" fill="#38e81e" stroke="#111111" stroke-width="1.1" stroke-linejoin="round"/>
<rect x="126.59" y="351.89" width="5.61" height="4.42" fill="#1e40ec" stroke="#111111" stroke-width="1.1"/>
<rect x="172.39" y="343.89" width="5.61" height="4.42" fill="#1e40ec" stroke="#111111" stroke-width="1.1"/>
<rect x="170.19" y="358.29" width="5.61" height="4.42" fill="#1e40ec" stroke="#111111" stroke-width="1.1"/>
<polygon points="187.50,349.05 190.55,353.95 184.45,353.95" fill="#1e40ec" stroke="#111111" stroke-width="1.1" stroke-linejoin="round"/>
<polygon points="201.90,340.65 204.95,345.55 198.85,345.55" fill="#1e40ec" stroke="#111111" stroke-width="1.1" stroke-linejoin="round"/>
<polygon points="205.80,328.95 208.85,333.85 202.75,333.85" fill="#1e40ec" stroke="#111111" stroke-width="1.1" stroke-linejoin="round"/>
<ellipse cx="257.60" cy="350.30" rx="2.76" ry="2.24" fill="#1e40ec" stroke="#111111" stroke-width="1.1"/>
<ellipse cx="295.00" cy="353.20" rx="2.76" ry="2.24" fill="#1e40ec" stroke="#111111" stroke-width="1.1"/>
<ellipse cx="229.50" cy="369.30" rx="2.76" ry="2.24" fill="#1e40ec" stroke="#111111" stroke-width="1.1"/>
<ellipse cx="262.00" cy="398.50" rx="2.76" ry="2.24" fill="#f6d91f" stroke="#111111" stroke-width="1.1"/>
<polygon points="113.00,419.15 116.05,424.05 109.95,424.05" fill="#e8302a" stroke="#111111" stroke-width="1.1" stroke-linejoin="round"/>
<rect x="144.49" y="438.09" width="5.61" height="4.42" fill="#e8302a" stroke="#111111" stroke-width="1.1"/>
<ellipse cx="198.80" cy="401.40" rx="2.76" ry="2.24" fill="#e8302a" stroke="#111111" stroke-width="1.1"/>
<ellipse cx="195.90" cy="405.50" rx="2.76" ry="2.24" fill="#e8302a" stroke="#111111" stroke-width="1.1"/>
<ellipse cx="188.30" cy="417.30" rx="2.76" ry="2.24" fill="#e8302a" stroke="#111111" stroke-width="1.1"/>
<rect x="190.29" y="413.79" width="5.61" height="4.42" fill="#e8302a" stroke="#111111" stroke-width="1.1"/>
<rect x="195.59" y="408.09" width="5.61" height="4.42" fill="#38e81e" stroke="#111111" stroke-width="1.1"/>
<rect x="200.79" y="412.19" width="5.61" height="4.42" fill="#38e81e" stroke="#111111" stroke-width="1.1"/>
<rect x="198.69" y="415.79" width="5.61" height="4.42" fill="#38e81e" stroke="#111111" stroke-width="1.1"/>
<polygon points="213.70,423.15 216.75,428.05 210.65,428.05" fill="#38e81e" stroke="#111111" stroke-width="1.1" stroke-linejoin="round"/>
<polygon points="219.90,422.35 222.95,427.25 216.85,427.25" fill="#38e81e" stroke="#111111" stroke-width="1.1" stroke-linejoin="round"/>
<rect x="195.59" y="429.29" width="5.61" height="4.42" fill="#e8302a" stroke="#111111" stroke-width="1.1"/>
<polygon points="206.70,432.95 209.75,437.85 203.65,437.85" fill="#e8302a" stroke="#111111" stroke-width="1.1" stroke-linejoin="round"/>
<ellipse cx="226.00" cy="435.30" rx="2.76" ry="2.24" fill="#38e81e" stroke="#111111" stroke-width="1.1"/>
<polygon points="198.90,439.75 201.95,444.65 195.85,444.65" fill="#e8302a" stroke="#111111" stroke-width="1.1" stroke-linejoin="round"/>
<polygon points="209.60,439.75 212.65,444.65 206.55,444.65" fill="#38e81e" stroke="#111111" stroke-width="1.1" stroke-linejoin="round"/>
<ellipse cx="226.30" cy="446.40" rx="2.76" ry="2.24" fill="#38e81e" stroke="#111111" stroke-width="1.1"/>
<ellipse cx="241.40" cy="444.90" rx="2.76" ry="2.24" fill="#f6d91f" stroke="#111111" stroke-width="1.1"/>
<rect x="160.89" y="458.09" width="5.61" height="4.42" fill="#f6d91f" stroke="#111111" stroke-width="1.1"/>
<rect x="190.69" y="467.19" width="5.61" height="4.42" fill="#f6d91f" stroke="#111111" stroke-width="1.1"/>
<rect x="194.19" y="464.19" width="5.61" height="4.42" fill="#f6d91f" stroke="#111111" stroke-width="1.1"/>
<ellipse cx="222.20" cy="463.80" rx="2.76" ry="2.24" fill="#38e81e" stroke="#111111" stroke-width="1.1"/>
<ellipse cx="220.60" cy="466.80" rx="2.76" ry="2.24" fill="#38e81e" stroke="#111111" stroke-width="1.1"/>
<ellipse cx="218.90" cy="477.00" rx="2.76" ry="2.24" fill="#38e81e" stroke="#111111" stroke-width="1.1"/>
<polygon points="210.50,484.95 213.55,489.85 207.45,489.85" fill="#f6d91f" stroke="#111111" stroke-width="1.1" stroke-linejoin="round"/>
<polygon points="202.60,501.65 205.65,506.55 199.55,506.55" fill="#f6d91f" stroke="#111111" stroke-width="1.1" stroke-linejoin="round"/>
<polygon points="212.70,523.15 215.75,528.05 209.65,528.05" fill="#f6d91f" stroke="#111111" stroke-width="1.1" stroke-linejoin="round"/>
<ellipse cx="434.80" cy="331.40" rx="2.76" ry="2.21" fill="#1e40ec" stroke="#111111" stroke-width="1.1"/>
<ellipse cx="475.00" cy="337.90" rx="2.76" ry="2.21" fill="#1e40ec" stroke="#111111" stroke-width="1.1"/>
<ellipse cx="500.70" cy="361.20" rx="2.76" ry="2.21" fill="#1e40ec" stroke="#111111" stroke-width="1.1"/>
<polygon points="532.70,329.05 535.75,333.95 529.65,333.95" fill="#1e40ec" stroke="#111111" stroke-width="1.1" stroke-linejoin="round"/>
<polygon points="540.10,342.25 543.15,347.15 537.05,347.15" fill="#1e40ec" stroke="#111111" stroke-width="1.1" stroke-linejoin="round"/>
<polygon points="549.70,353.05 552.75,357.95 546.65,357.95" fill="#1e40ec" stroke="#111111" stroke-width="1.1" stroke-linejoin="round"/>
<rect x="568.50" y="349.60" width="5.79" height="4.61" fill="#1e40ec" stroke="#111111" stroke-width="1.1"/>
<rect x="566.70" y="364.10" width="5.79" height="4.61" fill="#1e40ec" stroke="#111111" stroke-width="1.1"/>
<rect x="613.50" y="360.90" width="5.79" height="4.61" fill="#1e40ec" stroke="#111111" stroke-width="1.1"/>
<ellipse cx="467.90" cy="391.60" rx="2.76" ry="2.21" fill="#f6d91f" stroke="#111111" stroke-width="1.1"/>
<ellipse cx="486.30" cy="437.20" rx="2.76" ry="2.21" fill="#f6d91f" stroke="#111111" stroke-width="1.1"/>
<rect x="540.90" y="407.40" width="5.79" height="4.61" fill="#38e81e" stroke="#111111" stroke-width="1.1"/>
<rect x="536.20" y="410.40" width="5.79" height="4.61" fill="#38e81e" stroke="#111111" stroke-width="1.1"/>
<rect x="535.50" y="413.30" width="5.79" height="4.61" fill="#38e81e" stroke="#111111" stroke-width="1.1"/>
<polygon points="515.10,419.95 518.15,424.85 512.05,424.85" fill="#38e81e" stroke="#111111" stroke-width="1.1" stroke-linejoin="round"/>
<polygon points="521.00,420.75 524.05,425.65 517.95,425.65" fill="#38e81e" stroke="#111111" stroke-width="1.1" stroke-linejoin="round"/>
<polygon points="523.10,439.45 526.15,444.35 520.05,444.35" fill="#38e81e" stroke="#111111" stroke-width="1.1" stroke-linejoin="round"/>
<ellipse cx="505.20" cy="430.20" rx="2.76" ry="2.21" fill="#38e81e" stroke="#111111" stroke-width="1.1"/>
<ellipse cx="504.20" cy="441.50" rx="2.76" ry="2.21" fill="#38e81e" stroke="#111111" stroke-width="1.1"/>
<ellipse cx="506.30" cy="463.50" rx="2.76" ry="2.21" fill="#38e81e" stroke="#111111" stroke-width="1.1"/>
<ellipse cx="510.80" cy="462.00" rx="2.76" ry="2.21" fill="#38e81e" stroke="#111111" stroke-width="1.1"/>
<ellipse cx="510.40" cy="475.10" rx="2.76" ry="2.21" fill="#38e81e" stroke="#111111" stroke-width="1.1"/>
<rect x="536.50" y="462.30" width="5.79" height="4.61" fill="#f6d91f" stroke="#111111" stroke-width="1.1"/>
<rect x="543.90" y="467.30" width="5.79" height="4.61" fill="#f6d91f" stroke="#111111" stroke-width="1.1"/>
<rect x="572.50" y="464.00" width="5.79" height="4.61" fill="#f6d91f" stroke="#111111" stroke-width="1.1"/>
<polygon points="521.40,481.65 524.45,486.55 518.35,486.55" fill="#f6d91f" stroke="#111111" stroke-width="1.1" stroke-linejoin="round"/>
<polygon points="523.50,502.25 526.55,507.15 520.45,507.15" fill="#f6d91f" stroke="#111111" stroke-width="1.1" stroke-linejoin="round"/>
<polygon points="518.40,522.55 521.45,527.45 515.35,527.45" fill="#f6d91f" stroke="#111111" stroke-width="1.1" stroke-linejoin="round"/>
<rect x="191.90" y="610.42" width="5.79" height="4.56" fill="#38e81e" stroke="#111111" stroke-width="1.1"/>
<rect x="186.00" y="626.52" width="5.79" height="4.56" fill="#38e81e" stroke="#111111" stroke-width="1.1"/>
<rect x="179.20" y="637.72" width="5.79" height="4.56" fill="#1e40ec" stroke="#111111" stroke-width="1.1"/>
<polygon points="114.00,675.35 117.05,680.25 110.95,680.25" fill="#38e81e" stroke="#111111" stroke-width="1.1" stroke-linejoin="round"/>
<polygon points="163.10,676.35 166.15,681.25 160.05,681.25" fill="#38e81e" stroke="#111111" stroke-width="1.1" stroke-linejoin="round"/>
<ellipse cx="236.80" cy="620.90" rx="2.86" ry="2.38" fill="#f6d91f" stroke="#111111" stroke-width="1.1"/>
<rect x="210.40" y="631.02" width="5.79" height="4.56" fill="#1e40ec" stroke="#111111" stroke-width="1.1"/>
<rect x="207.10" y="649.92" width="5.79" height="4.56" fill="#1e40ec" stroke="#111111" stroke-width="1.1"/>
<rect x="216.60" y="638.02" width="5.79" height="4.56" fill="#f6d91f" stroke="#111111" stroke-width="1.1"/>
<ellipse cx="230.50" cy="643.00" rx="2.86" ry="2.38" fill="#f6d91f" stroke="#111111" stroke-width="1.1"/>
<ellipse cx="232.70" cy="643.50" rx="2.86" ry="2.38" fill="#f6d91f" stroke="#111111" stroke-width="1.1"/>
<ellipse cx="241.60" cy="641.70" rx="2.86" ry="2.38" fill="#f6d91f" stroke="#111111" stroke-width="1.1"/>
<polygon points="245.40,643.95 248.45,648.85 242.35,648.85" fill="#1e40ec" stroke="#111111" stroke-width="1.1" stroke-linejoin="round"/>
<rect x="236.00" y="645.62" width="5.79" height="4.56" fill="#f6d91f" stroke="#111111" stroke-width="1.1"/>
<rect x="237.80" y="642.72" width="5.79" height="4.56" fill="#38e81e" stroke="#111111" stroke-width="1.1"/>
<ellipse cx="245.10" cy="649.60" rx="2.86" ry="2.38" fill="#f6d91f" stroke="#111111" stroke-width="1.1"/>
<polygon points="270.30,638.15 273.35,643.05 267.25,643.05" fill="#1e40ec" stroke="#111111" stroke-width="1.1" stroke-linejoin="round"/>
<ellipse cx="273.40" cy="653.90" rx="2.86" ry="2.38" fill="#1e40ec" stroke="#111111" stroke-width="1.1"/>
<ellipse cx="290.60" cy="655.30" rx="2.86" ry="2.38" fill="#1e40ec" stroke="#111111" stroke-width="1.1"/>
<ellipse cx="293.70" cy="663.80" rx="2.86" ry="2.38" fill="#1e40ec" stroke="#111111" stroke-width="1.1"/>
<ellipse cx="283.50" cy="686.00" rx="2.86" ry="2.38" fill="#1e40ec" stroke="#111111" stroke-width="1.1"/>
<rect x="248.00" y="656.52" width="5.79" height="4.56" fill="#f6d91f" stroke="#111111" stroke-width="1.1"/>
<polygon points="261.50,658.25 264.55,663.15 258.45,663.15" fill="#f6d91f" stroke="#111111" stroke-width="1.1" stroke-linejoin="round"/>
<ellipse cx="256.40" cy="663.20" rx="2.86" ry="2.38" fill="#38e81e" stroke="#111111" stroke-width="1.1"/>
<ellipse cx="256.40" cy="660.30" rx="2.86" ry="2.38" fill="#38e81e" stroke="#111111" stroke-width="1.1"/>
<ellipse cx="261.90" cy="664.30" rx="2.86" ry="2.38" fill="#38e81e" stroke="#111111" stroke-width="1.1"/>
<ellipse cx="264.40" cy="666.10" rx="2.86" ry="2.38" fill="#38e81e" stroke="#111111" stroke-width="1.1"/>
<ellipse cx="270.60" cy="666.10" rx="2.86" ry="2.38" fill="#1e40ec" stroke="#111111" stroke-width="1.1"/>
<polygon points="241.90,672.95 244.95,677.85 238.85,677.85" fill="#f6d91f" stroke="#111111" stroke-width="1.1" stroke-linejoin="round"/>
<polygon points="253.00,670.95 256.05,675.85 249.95,675.85" fill="#f6d91f" stroke="#111111" stroke-width="1.1" stroke-linejoin="round"/>
<ellipse cx="230.40" cy="731.10" rx="2.86" ry="2.38" fill="#e8302a" stroke="#111111" stroke-width="1.1"/>
<rect x="197.00" y="739.82" width="5.79" height="4.56" fill="#e8302a" stroke="#111111" stroke-width="1.1"/>
<rect x="200.90" y="740.22" width="5.79" height="4.56" fill="#e8302a" stroke="#111111" stroke-width="1.1"/>
<polygon points="207.60,750.55 210.65,755.45 204.55,755.45" fill="#e8302a" stroke="#111111" stroke-width="1.1" stroke-linejoin="round"/>
<rect x="204.70" y="758.22" width="5.79" height="4.56" fill="#e8302a" stroke="#111111" stroke-width="1.1"/>
<polygon points="212.60,772.95 215.65,777.85 209.55,777.85" fill="#e8302a" stroke="#111111" stroke-width="1.1" stroke-linejoin="round"/>
<polygon points="202.30,790.65 205.35,795.55 199.25,795.55" fill="#e8302a" stroke="#111111" stroke-width="1.1" stroke-linejoin="round"/>
<ellipse cx="273.80" cy="753.60" rx="2.86" ry="2.38" fill="#e8302a" stroke="#111111" stroke-width="1.1"/>
<ellipse cx="281.60" cy="765.00" rx="2.86" ry="2.38" fill="#e8302a" stroke="#111111" stroke-width="1.1"/>
<ellipse cx="283.70" cy="767.90" rx="2.86" ry="2.38" fill="#e8302a" stroke="#111111" stroke-width="1.1"/>
<ellipse cx="257.40" cy="809.70" rx="2.86" ry="2.38" fill="#e8302a" stroke="#111111" stroke-width="1.1"/>
<rect x="510.36" y="610.07" width="5.67" height="4.46" fill="#38e81e" stroke="#111111" stroke-width="1.1"/>
<rect x="505.66" y="629.07" width="5.67" height="4.46" fill="#38e81e" stroke="#111111" stroke-width="1.1"/>
<rect x="499.06" y="642.17" width="5.67" height="4.46" fill="#1e40ec" stroke="#111111" stroke-width="1.1"/>
<rect x="530.76" y="637.17" width="5.67" height="4.46" fill="#1e40ec" stroke="#111111" stroke-width="1.1"/>
<rect x="539.26" y="651.97" width="5.67" height="4.46" fill="#f6d91f" stroke="#111111" stroke-width="1.1"/>
<rect x="559.36" y="668.17" width="5.67" height="4.46" fill="#38e81e" stroke="#111111" stroke-width="1.1"/>
<rect x="531.86" y="679.87" width="5.67" height="4.46" fill="#1e40ec" stroke="#111111" stroke-width="1.1"/>
<rect x="558.36" y="683.87" width="5.67" height="4.46" fill="#f6d91f" stroke="#111111" stroke-width="1.1"/>
<ellipse cx="558.60" cy="693.10" rx="2.79" ry="2.32" fill="#f6d91f" stroke="#111111" stroke-width="1.1"/>
<rect x="571.66" y="693.77" width="5.67" height="4.46" fill="#f6d91f" stroke="#111111" stroke-width="1.1"/>
<polygon points="585.40,700.15 588.45,705.05 582.35,705.05" fill="#1e40ec" stroke="#111111" stroke-width="1.1" stroke-linejoin="round"/>
<ellipse cx="583.20" cy="708.50" rx="2.79" ry="2.32" fill="#38e81e" stroke="#111111" stroke-width="1.1"/>
<ellipse cx="582.80" cy="714.50" rx="2.79" ry="2.32" fill="#38e81e" stroke="#111111" stroke-width="1.1"/>
<polygon points="577.10,713.85 580.15,718.75 574.05,718.75" fill="#f6d91f" stroke="#111111" stroke-width="1.1" stroke-linejoin="round"/>
<polygon points="592.70,712.05 595.75,716.95 589.65,716.95" fill="#1e40ec" stroke="#111111" stroke-width="1.1" stroke-linejoin="round"/>
<ellipse cx="596.10" cy="716.80" rx="2.79" ry="2.32" fill="#1e40ec" stroke="#111111" stroke-width="1.1"/>
<ellipse cx="598.00" cy="718.20" rx="2.79" ry="2.32" fill="#1e40ec" stroke="#111111" stroke-width="1.1"/>
<ellipse cx="614.10" cy="710.70" rx="2.79" ry="2.32" fill="#1e40ec" stroke="#111111" stroke-width="1.1"/>
<ellipse cx="616.90" cy="723.30" rx="2.79" ry="2.32" fill="#1e40ec" stroke="#111111" stroke-width="1.1"/>
<ellipse cx="607.90" cy="725.80" rx="2.79" ry="2.32" fill="#1e40ec" stroke="#111111" stroke-width="1.1"/>
<ellipse cx="556.40" cy="720.10" rx="2.79" ry="2.32" fill="#f6d91f" stroke="#111111" stroke-width="1.1"/>
<polygon points="571.90,717.25 574.95,722.15 568.85,722.15" fill="#1e40ec" stroke="#111111" stroke-width="1.1" stroke-linejoin="round"/>
<polygon points="567.10,718.15 570.15,723.05 564.05,723.05" fill="#f6d91f" stroke="#111111" stroke-width="1.1" stroke-linejoin="round"/>
<ellipse cx="567.10" cy="725.40" rx="2.79" ry="2.32" fill="#f6d91f" stroke="#111111" stroke-width="1.1"/>
<ellipse cx="570.90" cy="728.40" rx="2.79" ry="2.32" fill="#f6d91f" stroke="#111111" stroke-width="1.1"/>
<polygon points="585.60,718.15 588.65,723.05 582.55,723.05" fill="#f6d91f" stroke="#111111" stroke-width="1.1" stroke-linejoin="round"/>
<ellipse cx="589.20" cy="725.20" rx="2.79" ry="2.32" fill="#38e81e" stroke="#111111" stroke-width="1.1"/>
<ellipse cx="590.50" cy="723.00" rx="2.79" ry="2.32" fill="#38e81e" stroke="#111111" stroke-width="1.1"/>
<ellipse cx="553.60" cy="789.80" rx="2.79" ry="2.32" fill="#f6d91f" stroke="#111111" stroke-width="1.1"/>
<polygon points="435.40,803.95 438.45,808.85 432.35,808.85" fill="#38e81e" stroke="#111111" stroke-width="1.1" stroke-linejoin="round"/>
<polygon points="482.10,804.85 485.15,809.75 479.05,809.75" fill="#38e81e" stroke="#111111" stroke-width="1.1" stroke-linejoin="round"/>
<text x="200.10" y="77.90" style="font-size:12.8px;fill:#1a1a1a;stroke:#1a1a1a;stroke-width:0.25px;" >0.07</text>
<text x="229.50" y="100.10" style="font-size:12.8px;fill:#1a1a1a;stroke:#1a1a1a;stroke-width:0.25px;" >0.10</text>
<text x="275.60" y="137.40" style="font-size:12.8px;fill:#1a1a1a;stroke:#1a1a1a;stroke-width:0.25px;" >0.20</text>
<text x="251.90" y="72.40" style="font-size:13.4px;fill:#2741c4;stroke:#2741c4;stroke-width:0.25px;" >N</text>
<text x="268.60" y="79.70" style="font-size:13.4px;fill:#ece247;stroke:#ece247;stroke-width:0.25px;" >P</text>
<text x="282.58" y="87.20" style="font-size:13.4px;fill:#4fd84a;stroke:#4fd84a;stroke-width:0.25px;" >S</text>
<text x="160.43" y="163.00" style="font-size:13.1px;fill:#2741c4;stroke:#2741c4;stroke-width:0.25px;" >N 0.07</text>
<text x="112.82" y="168.20" style="font-size:13.4px;fill:#e2382e;stroke:#e2382e;stroke-width:0.25px;" >C</text>
<text x="119.70" y="186.00" style="font-size:12.8px;fill:#e2382e;stroke:#e2382e;stroke-width:0.25px;" >0.07</text>
<text x="152.50" y="211.40" style="font-size:12.8px;fill:#e2382e;stroke:#e2382e;stroke-width:0.25px;" >0.10</text>
<text x="199.20" y="245.30" style="font-size:12.8px;fill:#e2382e;stroke:#e2382e;stroke-width:0.25px;" >0.20</text>
<text x="436.50" y="75.80" style="font-size:12.8px;fill:#e2382e;stroke:#e2382e;stroke-width:0.25px;" >0.20</text>
<text x="436.32" y="159.00" style="font-size:13.4px;fill:#e2382e;stroke:#e2382e;stroke-width:0.25px;" >C</text>
<text x="436.50" y="241.00" style="font-size:12.8px;fill:#e2382e;stroke:#e2382e;stroke-width:0.25px;" >0.10</text>
<text x="548.00" y="76.10" style="font-size:12.8px;fill:#1a1a1a;stroke:#1a1a1a;stroke-width:0.25px;" >0.20</text>
<text x="548.00" y="241.50" style="font-size:12.8px;fill:#1a1a1a;stroke:#1a1a1a;stroke-width:0.25px;" >0.10</text>
<text x="598.50" y="129.80" style="font-size:13.4px;fill:#2741c4;stroke:#2741c4;stroke-width:0.25px;" >N</text>
<text x="605.40" y="147.90" style="font-size:13.4px;fill:#ece247;stroke:#ece247;stroke-width:0.25px;" >P</text>
<text x="609.08" y="167.90" style="font-size:13.4px;fill:#4fd84a;stroke:#4fd84a;stroke-width:0.25px;" >S</text>
<text x="147.00" y="366.80" style="font-size:13.4px;fill:#2741c4;stroke:#2741c4;stroke-width:0.25px;" >N</text>
<text x="127.12" y="496.20" style="font-size:13.4px;fill:#e2382e;stroke:#e2382e;stroke-width:0.25px;" >C</text>
<text x="136.80" y="512.80" style="font-size:13.4px;fill:#ece247;stroke:#ece247;stroke-width:0.25px;" >P</text>
<text x="150.78" y="502.70" style="font-size:13.4px;fill:#4fd84a;stroke:#4fd84a;stroke-width:0.25px;" >S</text>
<text x="437.70" y="357.70" style="font-size:13.4px;fill:#2741c4;stroke:#2741c4;stroke-width:0.25px;" >N</text>
<text x="436.90" y="447.60" style="font-size:13.4px;fill:#ece247;stroke:#ece247;stroke-width:0.25px;" >P</text>
<text x="437.18" y="472.80" style="font-size:13.4px;fill:#4fd84a;stroke:#4fd84a;stroke-width:0.25px;" >S</text>
<text x="452.50" y="375.80" style="font-size:12.8px;fill:#1a1a1a;stroke:#1a1a1a;stroke-width:0.25px;" >0.07</text>
<text x="516.30" y="376.20" style="font-size:12.8px;fill:#1a1a1a;stroke:#1a1a1a;stroke-width:0.25px;" >0.10</text>
<text x="577.10" y="376.40" style="font-size:12.8px;fill:#1a1a1a;stroke:#1a1a1a;stroke-width:0.25px;" >0.20</text>
<text x="472.90" y="455.80" style="font-size:12.8px;fill:#1a1a1a;stroke:#1a1a1a;stroke-width:0.25px;" >0.07</text>
<text x="516.70" y="455.80" style="font-size:12.8px;fill:#1a1a1a;stroke:#1a1a1a;stroke-width:0.25px;" >0.10</text>
<text x="562.60" y="455.60" style="font-size:12.8px;fill:#1a1a1a;stroke:#1a1a1a;stroke-width:0.25px;" >0.20</text>
<text x="123.30" y="631.60" style="font-size:13.4px;fill:#2741c4;stroke:#2741c4;stroke-width:0.25px;" >N</text>
<text x="140.40" y="631.60" style="font-size:13.4px;fill:#ece247;stroke:#ece247;stroke-width:0.25px;" >P</text>
<text x="133.98" y="648.50" style="font-size:13.4px;fill:#4fd84a;stroke:#4fd84a;stroke-width:0.25px;" >S</text>
<text x="126.42" y="793.80" style="font-size:13.4px;fill:#e2382e;stroke:#e2382e;stroke-width:0.25px;" >C</text>
<text x="556.80" y="628.50" style="font-size:13.4px;fill:#2741c4;stroke:#2741c4;stroke-width:0.25px;" >N</text>
<text x="574.30" y="638.30" style="font-size:13.4px;fill:#ece247;stroke:#ece247;stroke-width:0.25px;" >P</text>
<text x="591.38" y="648.80" style="font-size:13.4px;fill:#4fd84a;stroke:#4fd84a;stroke-width:0.25px;" >S</text>
<text x="472.20" y="699.00" style="font-size:12.8px;fill:#1a1a1a;stroke:#1a1a1a;stroke-width:0.25px;" >0.20</text>
<text x="519.20" y="748.50" style="font-size:12.8px;fill:#1a1a1a;stroke:#1a1a1a;stroke-width:0.25px;" >0.10</text>
<text x="542.30" y="772.00" style="font-size:12.8px;fill:#1a1a1a;stroke:#1a1a1a;stroke-width:0.25px;" >0.07</text>
</svg></body></html>
